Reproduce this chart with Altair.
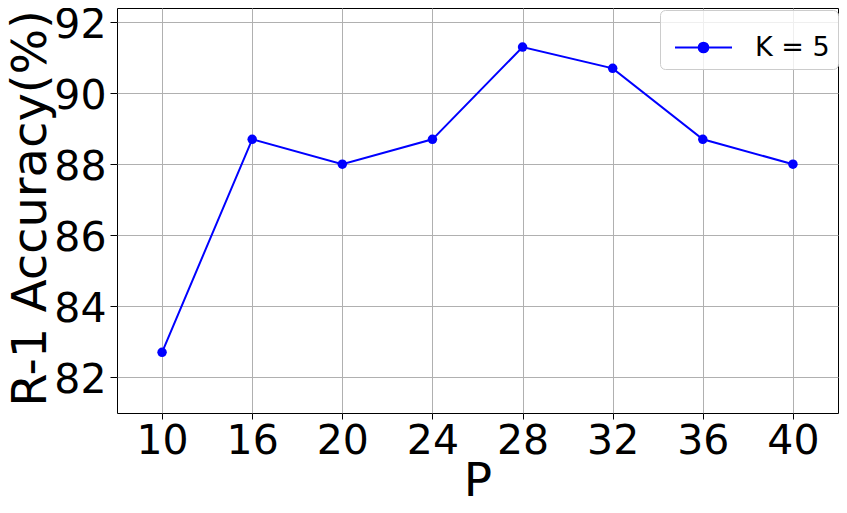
import altair as alt
import pandas as pd

p_labels = ["10", "16", "20", "24", "28", "32", "36", "40"]
accuracy = [82.7, 88.7, 88.0, 88.7, 91.3, 90.7, 88.7, 88.0]
series_name = "K = 5"
y_ticks = [82, 84, 86, 88, 90, 92]

df = pd.DataFrame({"P": p_labels, "acc": accuracy, "series": [series_name] * len(p_labels)})

FONT = "DejaVu Sans"
symbol_path = "M-1,0H1M-0.17,0A0.17,0.17 0 1,0 0.17,0A0.17,0.17 0 1,0 -0.17,0Z"

chart = alt.Chart(df).mark_line(
    point=alt.OverlayMarkDef(size=90, filled=True, color="blue", opacity=1),
    strokeWidth=2,
).encode(
    x=alt.X("P:O", sort=None,
            scale=alt.Scale(type="point", padding=0.5),
            axis=alt.Axis(title="P", labelAngle=0, labelFontSize=41, labelFont=FONT,
                          labelColor="black", labelPadding=2, tickSize=6, tickColor="black",
                          domain=False, grid=True, gridColor="#b0b0b0", gridWidth=1,
                          titleFontSize=47, titleFont=FONT, titleFontWeight="normal",
                          titleColor="black", titleY=82, titleBaseline="alphabetic")),
    y=alt.Y("acc:Q",
            scale=alt.Scale(domain=[80.99, 92.40], nice=False, zero=False),
            axis=alt.Axis(title="R-1 Accuracy(%)", values=y_ticks, labelFontSize=41,
                          labelFont=FONT, labelColor="black", labelPadding=4, labelOffset=3,
                          tickSize=7, tickColor="black", domain=False, grid=True,
                          gridColor="#b0b0b0", gridWidth=1, titleFontSize=48,
                          titleFont=FONT, titleFontWeight="normal", titleColor="black",
                          titleAngle=270, titleX=-72, titleY=200, titleAlign="center",
                          titleBaseline="alphabetic")),
    color=alt.Color("series:N", scale=alt.Scale(range=["blue"]),
                    legend=alt.Legend(title=None, orient="none", legendX=543, legendY=2,
                                      symbolType=symbol_path, symbolSize=3249,
                                      symbolStrokeWidth=2, symbolFillColor="blue",
                                      symbolStrokeColor="blue", symbolOpacity=1,
                                      symbolOffset=6, labelOffset=22,
                                      labelFontSize=27, labelFont=FONT, labelColor="black",
                                      padding=8, strokeColor="#cccccc", cornerRadius=5,
                                      fillColor="rgba(255,255,255,0.8)")),
).properties(
    width=721, height=405,
    autosize=alt.AutoSizeParams(type="none"),
    padding={"left": 109, "top": 0, "right": 1, "bottom": 92},
    background="white",
).configure_view(stroke="black", strokeWidth=1)

chart.save("out.html", embed_options={"renderer": "svg", "actions": False})
